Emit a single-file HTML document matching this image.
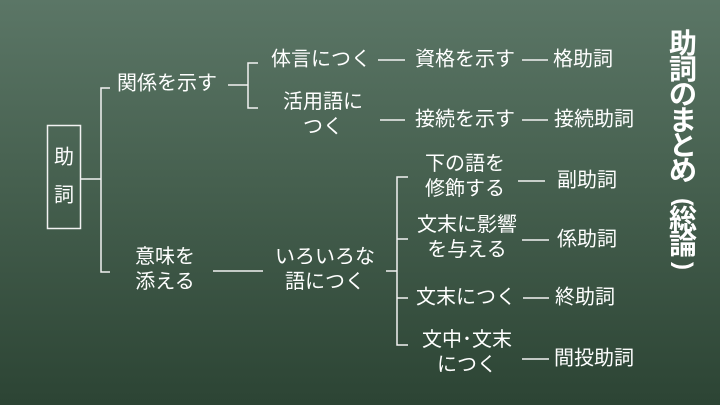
<!DOCTYPE html>
<html><head><meta charset="utf-8"><style>
html,body{margin:0;padding:0}
body{width:720px;height:405px;overflow:hidden;position:relative;
background:linear-gradient(180deg,#5b7666 0%,#46604f 45%,#2c4434 100%);
font-family:"Liberation Sans","Noto Sans CJK JP",sans-serif;color:#fff}
.t{position:absolute;font-size:20px;line-height:25px;text-align:center;white-space:nowrap;transform:translate(-50%,-50%)}
.c{position:absolute;font-size:28px;font-weight:bold;line-height:28px;width:30px;text-align:center;left:668px}
svg{position:absolute;left:0;top:0}
</style></head><body>
<svg width="720" height="405"><g stroke="#f2f2f2" stroke-width="1.5" fill="none">
<rect x="47.5" y="125.5" width="33" height="103"/>
<path d="M80 179H101M110 88H101V272H110"/>
<path d="M228 85H248M258 63H248V108H258"/>
<path d="M378 60H405M522 60H548"/>
<path d="M380 120H405M522 120H548"/>
<path d="M213 271H263M386 271H397M408 177H397V345H408M397 239H408M397 298H408"/>
<path d="M518 181H545M522 240H549M523 298H549M522 359H549"/>
</g></svg>
<div class="t" style="left:64px;top:158px">助</div>
<div class="t" style="left:64px;top:196px">詞</div>
<div class="t" style="left:167px;top:84px">関係を示す</div>
<div class="t" style="left:321px;top:60px">体言につく</div>
<div class="t" style="left:323px;top:115px">活用語に<br>つく</div>
<div class="t" style="left:465px;top:60px">資格を示す</div>
<div class="t" style="left:583px;top:60px">格助詞</div>
<div class="t" style="left:465px;top:120px">接続を示す</div>
<div class="t" style="left:594px;top:120px">接続助詞</div>
<div class="t" style="left:165px;top:270px">意味を<br>添える</div>
<div class="t" style="left:325px;top:270px">いろいろな<br>語につく</div>
<div class="t" style="left:465px;top:177px">下の語を<br>修飾する</div>
<div class="t" style="left:587px;top:181px">副助詞</div>
<div class="t" style="left:467px;top:238px">文末に影響<br>を与える</div>
<div class="t" style="left:587px;top:240px">係助詞</div>
<div class="t" style="left:466px;top:298px">文末につく</div>
<div class="t" style="left:585px;top:298px">終助詞</div>
<div class="t" style="left:467px;top:353px">文中･文末<br>につく</div>
<div class="t" style="left:594px;top:359px">間投助詞</div>
<div class="c" style="top:30px">助</div>
<div class="c" style="top:56px">詞</div>
<div class="c" style="top:81px">の</div>
<div class="c" style="top:107px">ま</div>
<div class="c" style="top:132px">と</div>
<div class="c" style="top:157px">め</div>
<div class="c" style="top:188px;font-size:24px;transform:rotate(90deg)">(</div>
<div class="c" style="top:206px">総</div>
<div class="c" style="top:231px">論</div>
<div class="c" style="top:252px;font-size:24px;transform:rotate(90deg)">)</div>
</body></html>
